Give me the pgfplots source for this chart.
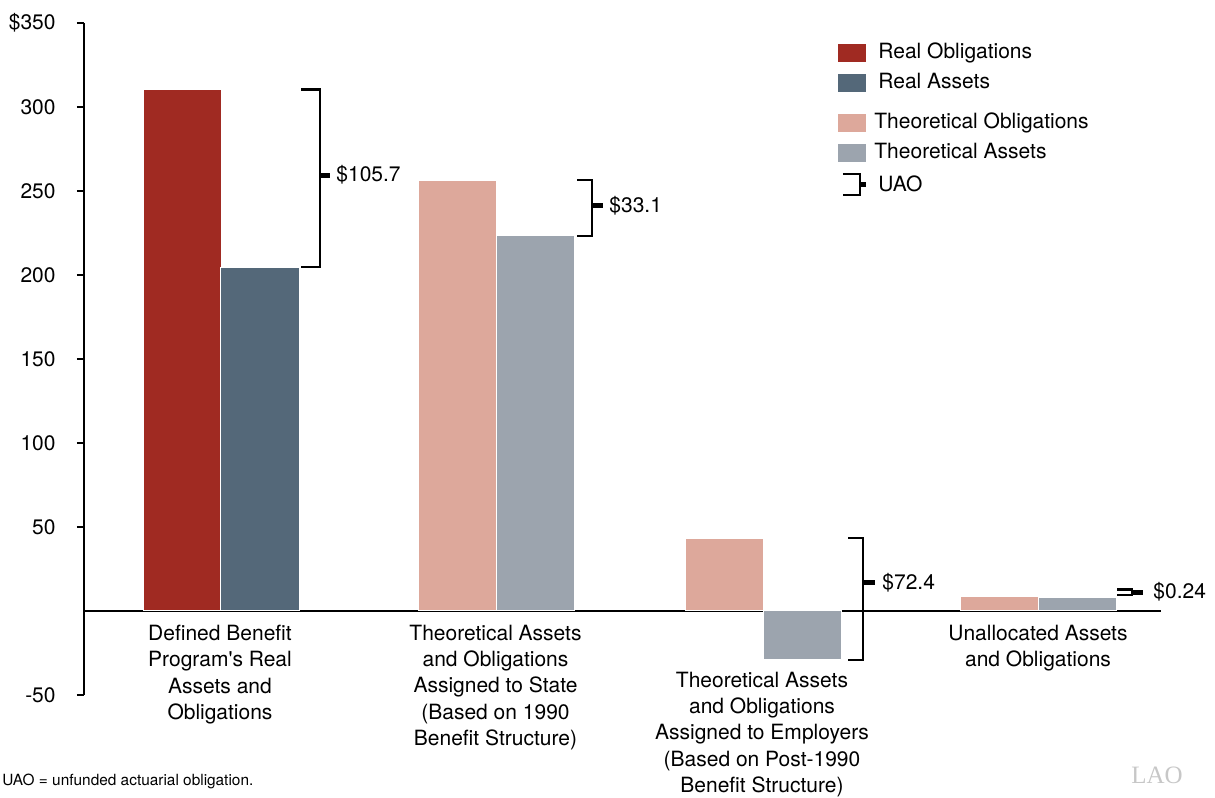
\documentclass[border=0pt]{standalone}
\usepackage{fontspec}
\setmainfont{TeX Gyre Heros}[Ligatures=TeXOff]
\newfontfamily\laofont{Liberation Serif}
\usepackage{pgfplots}
\pgfplotsset{compat=1.18}
\definecolor{ro}{RGB}{160,42,34}
\definecolor{ra}{RGB}{84,104,121}
\definecolor{to}{RGB}{221,168,155}
\definecolor{ta}{RGB}{156,164,174}
\newcommand{\lab}{\fontsize{10.5}{13.2}\selectfont}
\begin{document}
\begin{tikzpicture}
\begin{axis}[
  x=0.5pt, y=0.84pt,
  xmin=84, xmax=1161, ymin=-50, ymax=350,
  axis x line=middle, axis y line=left,
  axis line style={-, line width=1.2pt, black},
  ytick={-50,50,100,150,200,250,300,350},
  yticklabels={-50,50,100,150,200,250,300,\$350},
  xtick=\empty,
  tick align=outside, major tick length=3.5pt,
  tick style={line width=1.2pt, black},
  /pgf/number format/assume math mode=true,
  yticklabel style={font=\lab, anchor=east, inner sep=0pt, xshift=-10.5pt},
  ybar, bar width=78, bar shift=0pt,
  clip=false,
  legend style={draw=none, fill=none, at={(axis cs:838,338.6)}, anchor=north west,
    font=\lab, row sep=4.5pt, inner sep=0pt,
    nodes={inner sep=0pt, text height=8pt, text depth=2.5pt}},
  legend cell align=left,
]
\addplot[fill=ro, draw=white, line width=0.5pt, bar shift=0pt,
  legend image code/.code={\fill[ro] (0pt,-4.25pt) rectangle (13.5pt,4.25pt);}]
  coordinates {(182.5,310.4)};
\addlegendentry{\hspace{5pt}Real Obligations}
\addplot[fill=ra, draw=white, line width=0.5pt, bar shift=0pt,
  legend image code/.code={\path[draw=none,fill=none] (0pt,-6.75pt) -- (0pt,6.75pt);
    \fill[ra] (0pt,-1.75pt) rectangle (13.5pt,6.75pt);}]
  coordinates {(260,204.7)};
\addlegendentry[text depth=7.5pt]{\hspace{5pt}Real Assets}
\addplot[fill=to, draw=white, line width=0.5pt, bar shift=0pt,
  legend image code/.code={\fill[to] (0pt,-4.25pt) rectangle (13.5pt,4.25pt);}]
  coordinates {(457,256.4) (724,43.4) (999,8.5)};
\addlegendentry{\hspace{3pt}Theoretical Obligations}
\addplot[fill=ta, draw=white, line width=0.5pt, bar shift=0pt,
  legend image code/.code={\fill[ta] (0pt,-4.25pt) rectangle (13.5pt,4.25pt);}]
  coordinates {(535.5,223.3) (802,-29.0) (1077,8.3)};
\addlegendentry{\hspace{3pt}Theoretical Assets}
\addlegendimage{legend image code/.code={
  \path[draw=none,fill=none] (0pt,-6.85pt) -- (0pt,6.85pt);
  \draw[black, line width=1.2pt] (2pt,6.25pt) -- (10.5pt,6.25pt) -- (10.5pt,-4.25pt) -- (2pt,-4.25pt);
  \draw[black, line width=2.5pt] (10.5pt,1pt) -- (13.5pt,1pt);}}
\addlegendentry{\hspace{5pt}UAO}

% brackets (UAO)
\draw[line width=1.2pt] (axis cs:301,310.4) -- (axis cs:320,310.4) -- (axis cs:320,204.7) -- (axis cs:301,204.7);
\draw[line width=2.5pt] (axis cs:320,259.5) -- (axis cs:330,259.5);
\node[anchor=west, font=\lab, inner sep=0pt] at (axis cs:336,259.5) {\$105.7};

\draw[line width=1.2pt] (axis cs:577,256.4) -- (axis cs:592,256.4) -- (axis cs:592,223.3) -- (axis cs:577,223.3);
\draw[line width=2.5pt] (axis cs:592,241.1) -- (axis cs:603,241.1);
\node[anchor=west, font=\lab, inner sep=0pt] at (axis cs:609,241.1) {\$33.1};

\draw[line width=1.2pt] (axis cs:848,43.4) -- (axis cs:863,43.4) -- (axis cs:863,-29.0) -- (axis cs:848,-29.0);
\draw[line width=2.5pt] (axis cs:863,16.7) -- (axis cs:875,16.7);
\node[anchor=west, font=\lab, inner sep=0pt] at (axis cs:882,16.7) {\$72.4};

\draw[line width=1.2pt] (axis cs:1117,12.8) -- (axis cs:1132,12.8) -- (axis cs:1132,9.5) -- (axis cs:1117,9.5);
\draw[line width=2.5pt] (axis cs:1132,11.3) -- (axis cs:1143,11.3);
\node[anchor=west, font=\lab, inner sep=0pt] at (axis cs:1153,11.3) {\$0.24};

% category labels
\node[anchor=north, align=center, font=\lab, inner sep=0pt] at (axis cs:220,-8.0)
  {Defined Benefit\\Program's Real\\Assets and\\Obligations};
\node[anchor=north, align=center, font=\lab, inner sep=0pt] at (axis cs:495.5,-8.0)
  {Theoretical Assets\\and Obligations\\Assigned to State\\(Based on 1990\\Benefit Structure)};
\node[anchor=north, align=center, font=\lab, inner sep=0pt] at (axis cs:762,-36.0)
  {Theoretical Assets\\and Obligations\\Assigned to Employers\\(Based on Post-1990\\Benefit Structure)};
\node[anchor=north, align=center, font=\lab, inner sep=0pt] at (axis cs:1038,-8.0)
  {Unallocated Assets\\and Obligations};

% footnote and logo
\node[anchor=base west, inner sep=0pt, font=\fontsize{7.7}{9}\selectfont] at (axis cs:2,-103.6)
  {UAO = unfunded actuarial obligation.};
\node[anchor=base west, inner sep=0pt, font=\laofont\fontsize{12.5}{14}\selectfont, text=black!22] at (axis cs:1131,-102.4)
  {LAO};

% page frame
\path (axis cs:0,363.69) rectangle (axis cs:1215,-109.52);
\end{axis}
\end{tikzpicture}
\end{document}
